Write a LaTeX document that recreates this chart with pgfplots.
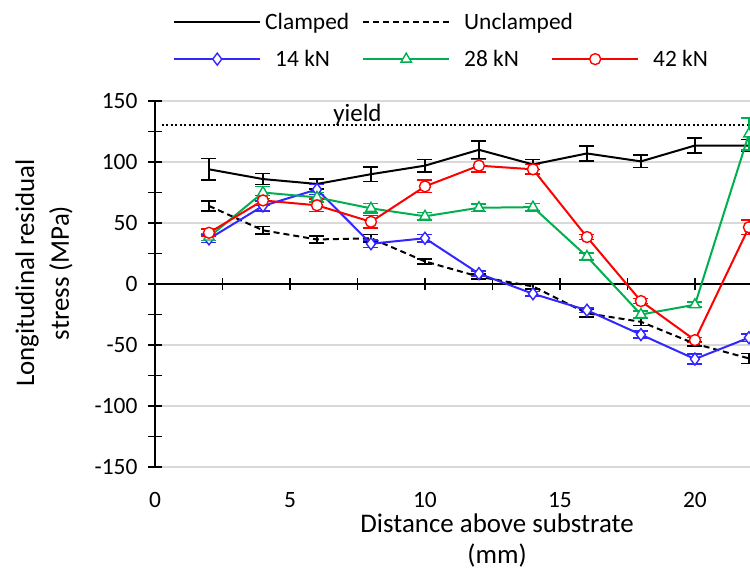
\documentclass[border=0pt]{standalone}
\usepackage{fontspec}
\setmainfont{Carlito}
\usepackage{pgfplots}
\usepackage{pgfplotstable}
\pgfplotsset{compat=1.18}

\definecolor{kn14}{RGB}{51,38,255}
\definecolor{kn28}{RGB}{0,176,80}
\definecolor{kn42}{RGB}{255,0,0}
\definecolor{gridgray}{RGB}{217,217,217}

% distance (mm), stress (MPa), error (MPa)
\pgfplotstableread{
x  y      e
2  94     9
4  86     4.5
6  82     4
8  90     6
10 97     5
12 110    7
14 98     4
16 107    6
18 100.5  5
20 113.5  6
22 113.5  5
}\clamped
\pgfplotstableread{
x  y      e
2  64     4
4  44     3
6  36.5   3
8  37.5   3
10 18.5   2
12 6      2
14 -2     2
16 -24    3
18 -31    3
20 -49    2
22 -61    4
}\unclamped
\pgfplotstableread{
x  y      e
2  37     3
4  64     4
6  77.5   4
8  33     3
10 37.5   3
12 8.5    2
14 -8     2
16 -21.5  2
18 -41.5  3
20 -61.5  4
22 -44    3
}\knfourteen
\pgfplotstableread{
x  y      e
2  38.5   3
4  75     5
6  71     4
8  62     4
10 55.5   3
12 62.5   3
14 63     3
16 22.5   3
18 -25    3
20 -17    2
22 123    13
}\kntwentyeight
\pgfplotstableread{
x  y      e
2  42     3
4  68.5   4
6  64.5   5
8  51     5
10 80     5
12 97     5
14 94     4
16 38.5   2
18 -14    2
20 -46    2
22 46.5   6
}\knfortytwo

\newcommand{\tickfont}{\fontsize{23.5}{28}\selectfont}
\newcommand{\titlefont}{\fontsize{27}{31}\selectfont}

\pgfplotsset{
  series/.style={line width=2bp, #1,
    /pgfplots/error bars/y dir=both,
    /pgfplots/error bars/y explicit,
    /pgfplots/error bars/error bar style={line width=1.6bp, solid, #1},
    /pgfplots/error bars/error mark options={rotate=90, mark size=7.5bp, line width=1.6bp, solid, #1}},
}

\begin{document}
\begin{tikzpicture}
\begin{axis}[
  scale only axis, width=595bp, height=366bp,
  xmin=0, xmax=22.04, ymin=-150, ymax=150,
  axis x line=bottom, axis y line=left,
  axis line style={-},
  x axis line style={draw=none},
  y axis line style={line width=1.5bp, black},
  xtick={0,5,...,20}, xtick style={draw=none},
  ytick={-150,-100,...,150}, minor ytick={-125,-75,...,125},
  ytick align=center, major tick length=14bp, minor tick length=14bp,
  ytick style={black, line width=1.4bp},
  minor tick style={black, line width=1.4bp},
  ymajorgrids, grid style={gridgray, line width=1.5bp},
  clip=false,
  /pgf/number format/assume math mode=true,
  ticklabel style={font=\tickfont},
  xticklabel style={yshift=-17bp, inner sep=1bp},
  yticklabel style={xshift=-7bp},
  xlabel={Distance above substrate\\(mm)},
  ylabel={Longitudinal residual\\stress (MPa)},
  xlabel style={font=\titlefont, align=center, inner sep=0pt, at={(axis description cs:0.575,-0.200)}, anchor=center},
  ylabel style={font=\fontsize{27}{35}\selectfont, align=center, at={(axis description cs:-0.1866,0.53)}, anchor=center},
  legend columns=3,
  legend image code/.code={\draw[mark repeat=2,mark phase=2,#1] plot coordinates {(0bp,0bp) (43bp,0bp) (86bp,0bp)};},
  legend style={draw=none, fill=none, inner sep=0pt,
    at={(axis description cs:0.0303,1.245)}, anchor=north west,
    font=\tickfont, cells={anchor=west},
    /tikz/row sep=15bp,
    /tikz/every odd column/.append style={column sep=12bp},
    /tikz/every even column/.append style={column sep=85bp}},
]
% zero line with its ticks
\draw[black, line width=1.6bp] (axis cs:0,0) -- (axis cs:22.04,0);
\pgfplotsinvokeforeach{2.5,5,7.5,10,12.5,15,17.5,20}{
  \draw[black, line width=1.4bp] (axis cs:#1,-5) -- (axis cs:#1,5);
}
% yield stress
\draw[black, line width=2bp, dash pattern=on 2bp off 2.5bp] (axis cs:0.25,130) -- (axis cs:22.04,130);
\node[font=\fontsize{25}{30}\selectfont, anchor=base] at (axis cs:7.5,133) {yield};

\addplot[series=black] table[x=x, y=y, y error=e] {\clamped};
\addlegendentry{\makebox[0pt][l]{\hspace{-10bp}Clamped}}
\addplot[series=black, dash pattern=on 6bp off 4bp] table[x=x, y=y, y error=e] {\unclamped};
\addlegendentry{\makebox[0pt][l]{Unclamped}}
\addlegendimage{empty legend}
\addlegendentry{}
\addplot[series=kn14, mark=diamond*, mark size=6bp, mark options={fill=white, solid, line width=1.4bp}] table[x=x, y=y, y error=e] {\knfourteen};
\addlegendentry{\makebox[0pt][l]{14 kN}}
\addplot[series=kn28, mark=triangle*, mark size=6bp, mark options={fill=white, solid, line width=1.4bp}] table[x=x, y=y, y error=e] {\kntwentyeight};
\addlegendentry{\makebox[0pt][l]{28 kN}}
\addplot[series=kn42, mark=*, mark size=5.5bp, mark options={fill=white, solid, line width=1.4bp}] table[x=x, y=y, y error=e] {\knfortytwo};
\addlegendentry{\makebox[0pt][l]{42 kN}}

\coordinate (ll) at (rel axis cs:0,0);
\end{axis}
\pgfresetboundingbox
\path ([shift={(-155bp,-104bp)}]ll) rectangle ++(750bp,571bp);
\end{tikzpicture}
\end{document}
